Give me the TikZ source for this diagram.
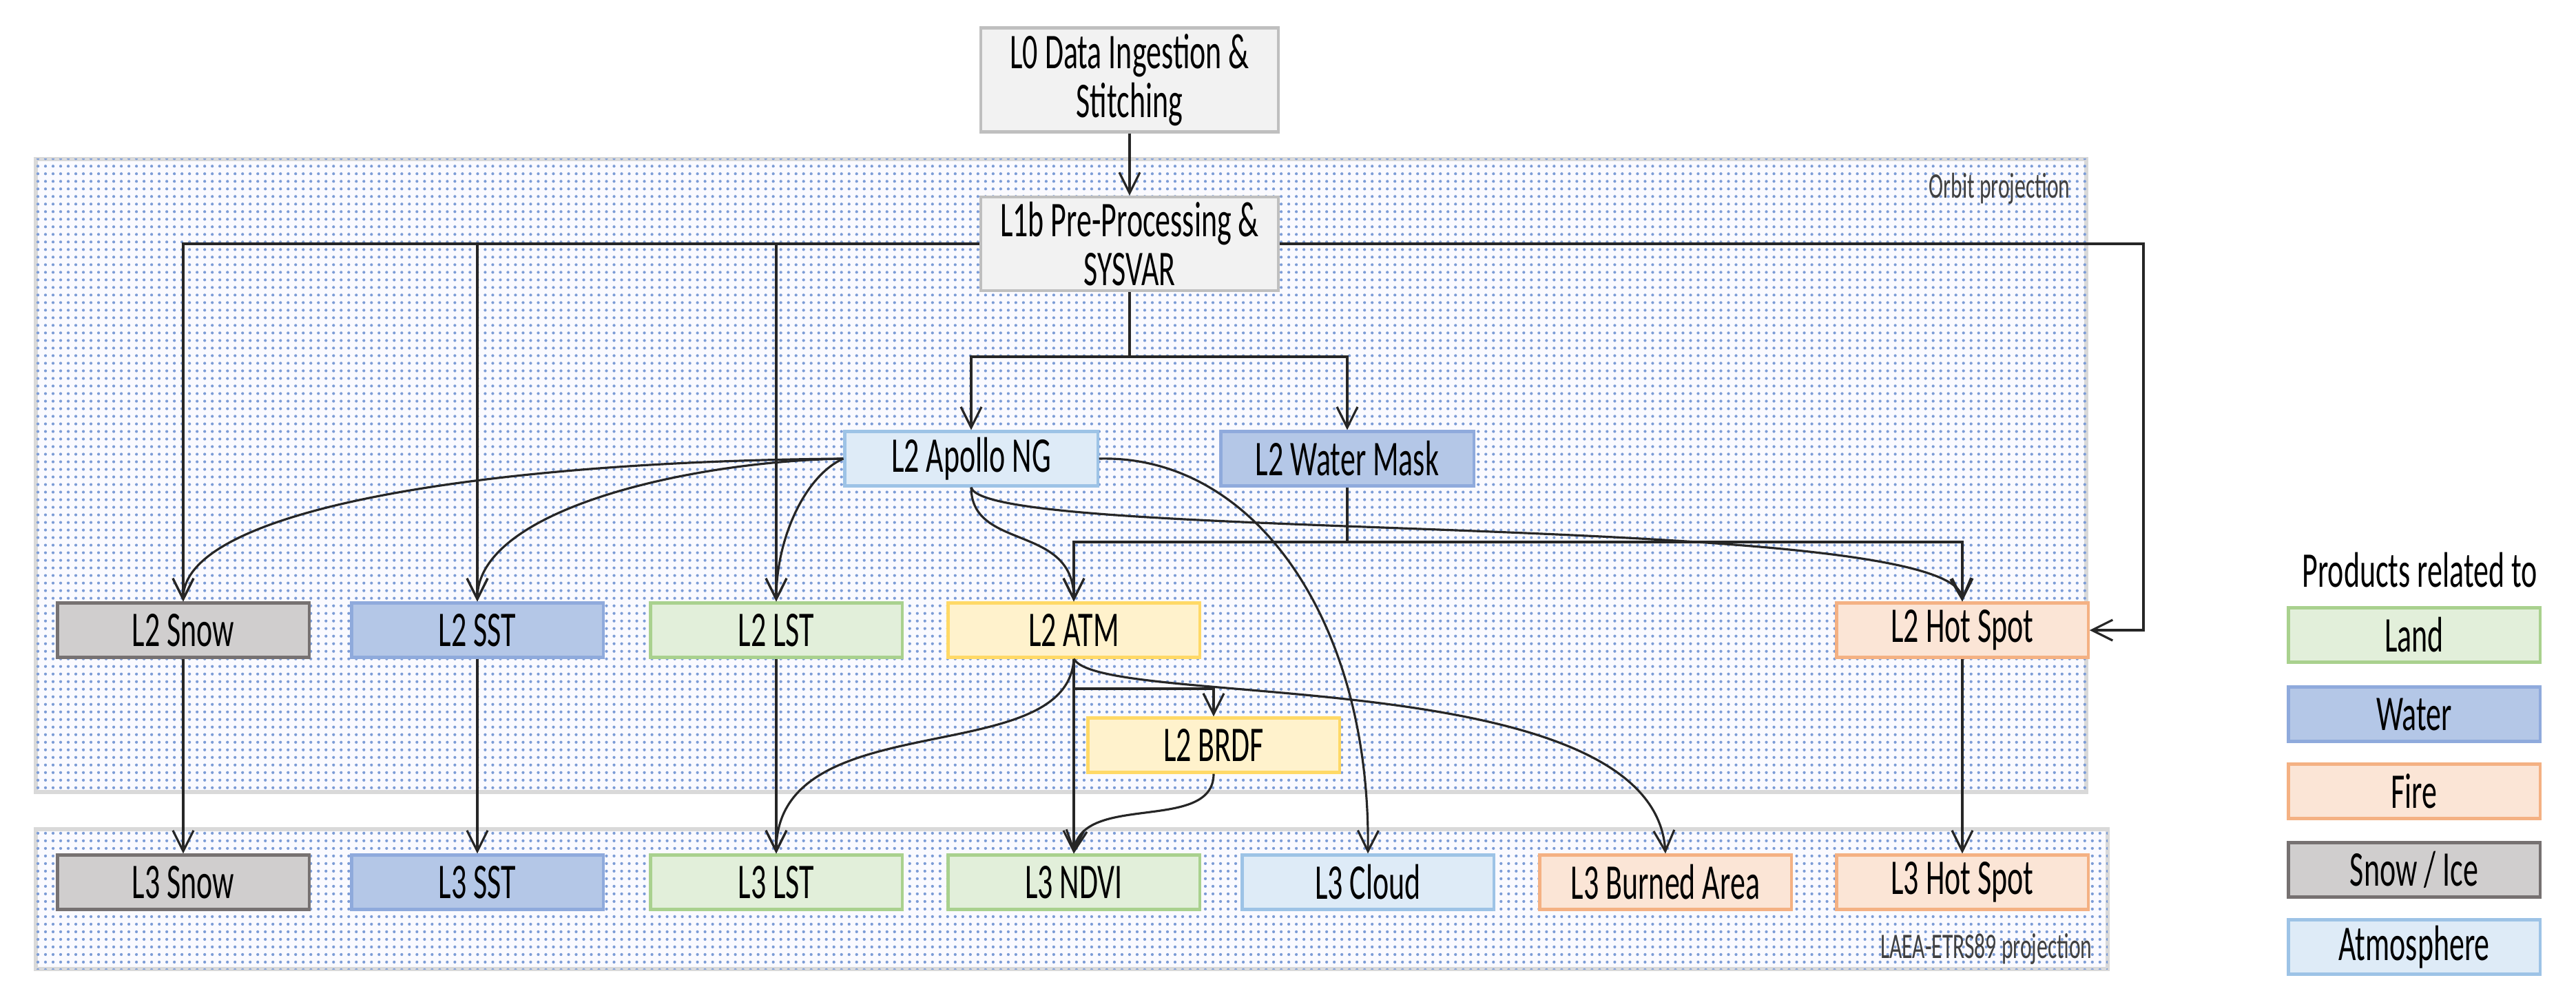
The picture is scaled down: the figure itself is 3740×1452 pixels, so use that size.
\documentclass[tikz,border=0pt]{standalone}
\usepackage{fontspec}
\setmainfont{Carlito}
\usetikzlibrary{arrows.meta,patterns.meta}
\newcommand{\st}[1]{\scalebox{1}[1.65]{#1}}
\definecolor{landF}{HTML}{E2EFDA}\definecolor{landB}{HTML}{A9D18E}
\definecolor{waterF}{HTML}{B4C7E7}\definecolor{waterB}{HTML}{8FAADC}
\definecolor{fireF}{HTML}{FBE5D6}\definecolor{fireB}{HTML}{F4B183}
\definecolor{snowF}{HTML}{D0CECE}\definecolor{snowB}{HTML}{767171}
\definecolor{atmoF}{HTML}{DEEBF7}\definecolor{atmoB}{HTML}{9DC3E6}
\definecolor{yelF}{HTML}{FFF2CC}\definecolor{yelB}{HTML}{FFD966}
\definecolor{greyF}{HTML}{F2F2F2}\definecolor{greyB}{HTML}{BFBFBF}
\definecolor{dotc}{HTML}{4472C4}
\begin{document}
\begin{tikzpicture}[x=0.01cm,y=-0.01cm,
  box/.style={draw,line width=1.2pt,minimum width=3.65cm,minimum height=0.79cm,inner sep=0pt,align=center,font=\fontsize{12.5}{20}\selectfont},
  land/.style={box,fill=landF,draw=landB},
  water/.style={box,fill=waterF,draw=waterB},
  fire/.style={box,fill=fireF,draw=fireB},
  snow/.style={box,fill=snowF,draw=snowB},
  atmo/.style={box,fill=atmoF,draw=atmoB},
  yel/.style={box,fill=yelF,draw=yelB},
  grey/.style={box,fill=greyF,draw=greyB,minimum width=4.32cm},
  region/.style={draw=black!15,line width=1.5pt,fill=blue!2,postaction={pattern={Dots[distance=0.11cm,radius=0.6pt]},pattern color=dotc!70}},
  arr/.style={-{Straight Barb[length=3mm,width=3mm]},line width=0.9pt,black!85},
  ln/.style={line width=0.9pt,black!85}]
\useasboundingbox (0,0) rectangle (3740,1452);
\draw[region] (52,231) rectangle (3029,1150);
\draw[region] (52,1204) rectangle (3060,1407);
\node[anchor=east,font=\fontsize{9}{10}\selectfont,text=black!75] (orb) at (3018,274) {\st{Orbit projection}};
\node[anchor=east,font=\fontsize{9}{10}\selectfont,text=black!75] (laea) at (3050,1378) {\st{LAEA-ETRS89 projection}};

\node[grey,minimum height=1.51cm] (l0) at (1640,116) {\st{L0 Data Ingestion \&}\\\st{Stitching}};
\node[grey,minimum height=1.36cm] (l1) at (1640,354) {\st{L1b Pre-Processing \&}\\\st{SYSVAR}};
\node[atmo,minimum width=3.67cm] (apo) at (1410,666) {\st{L2 Apollo NG}};
\node[water,minimum width=3.67cm] (wm) at (1956,666) {\st{L2 Water Mask}};
\node[snow] (snow2) at (266,915) {\st{L2 Snow}};
\node[water] (sst2) at (693,915) {\st{L2 SST}};
\node[land] (lst2) at (1127,915) {\st{L2 LST}};
\node[yel] (atm) at (1559,915) {\st{L2 ATM}};
\node[fire] (hot2) at (2849,915) {\st{L2 Hot Spot}};
\node[yel] (brdf) at (1762,1082) {\st{L2 BRDF}};
\node[snow] (snow3) at (266,1281) {\st{L3 Snow}};
\node[water] (sst3) at (693,1281) {\st{L3 SST}};
\node[land] (lst3) at (1127,1281) {\st{L3 LST}};
\node[land] (ndvi) at (1559,1281) {\st{L3 NDVI}};
\node[atmo] (cloud) at (1986,1281) {\st{L3 Cloud}};
\node[fire] (burn) at (2418,1281) {\st{L3 Burned Area}};
\node[fire] (hot3) at (2849,1281) {\st{L3 Hot Spot}};

\node[font=\fontsize{12.5}{16}\selectfont] (lt) at (3513,828) {\st{Products related to}};
\node[land] (lg1) at (3505,922) {\st{Land}};
\node[water] (lg2) at (3505,1037) {\st{Water}};
\node[fire] (lg3) at (3505,1149) {\st{Fire}};
\node[snow] (lg4) at (3505,1263) {\st{Snow / Ice}};
\node[atmo] (lg5) at (3505,1375) {\st{Atmosphere}};

\coordinate (rt) at (3112,354);
\coordinate (j1) at (1640,518);
\coordinate (j2) at (1956,787);
\coordinate (j3) at (1559,1000);

\draw[arr] (l0) -- (l1);
\draw[arr] (l1.west) -| (snow2.north);
\draw[arr] (l1.west) -| (sst2.north);
\draw[arr] (l1.west) -| (lst2.north);
\draw[arr] (l1.east) -- (rt) |- (hot2.east);
\draw[ln] (l1.south) -- (j1);
\draw[arr] (j1) -| (apo.north);
\draw[arr] (j1) -| (wm.north);
\draw[ln] (wm.south) -- (j2);
\draw[arr] (j2) -| (atm.north);
\draw[arr] (j2) -| (hot2.north);

\draw[arr] (apo.west) .. controls (700,670) and (266,740) .. (snow2.north);
\draw[arr] (apo.west) .. controls (1000,670) and (693,740) .. (sst2.north);
\draw[arr] (apo.west) .. controls (1170,690) and (1127,780) .. (lst2.north);
\draw[arr] (apo.south) .. controls (1410,800) and (1559,760) .. (atm.north);
\draw[arr] (apo.south) .. controls (1430,790) and (2840,740) .. (hot2.north);
\draw[arr] (apo.east) .. controls (1820,660) and (1990,900) .. (cloud.north);

\draw[arr] (atm.south) .. controls (1550,1120) and (1127,1020) .. (lst3.north);
\draw[arr] (atm.south) -- (ndvi.north);
\draw[arr] (j3) -| (brdf.north);
\draw[arr] (atm.south) .. controls (1600,1030) and (2400,960) .. (burn.north);
\draw[arr] (brdf.south) .. controls (1762,1210) and (1570,1150) .. (ndvi.north);

\draw[arr] (snow2) -- (snow3);
\draw[arr] (sst2) -- (sst3);
\draw[arr] (lst2) -- (lst3);
\draw[arr] (hot2) -- (hot3);
\end{tikzpicture}
\end{document}
